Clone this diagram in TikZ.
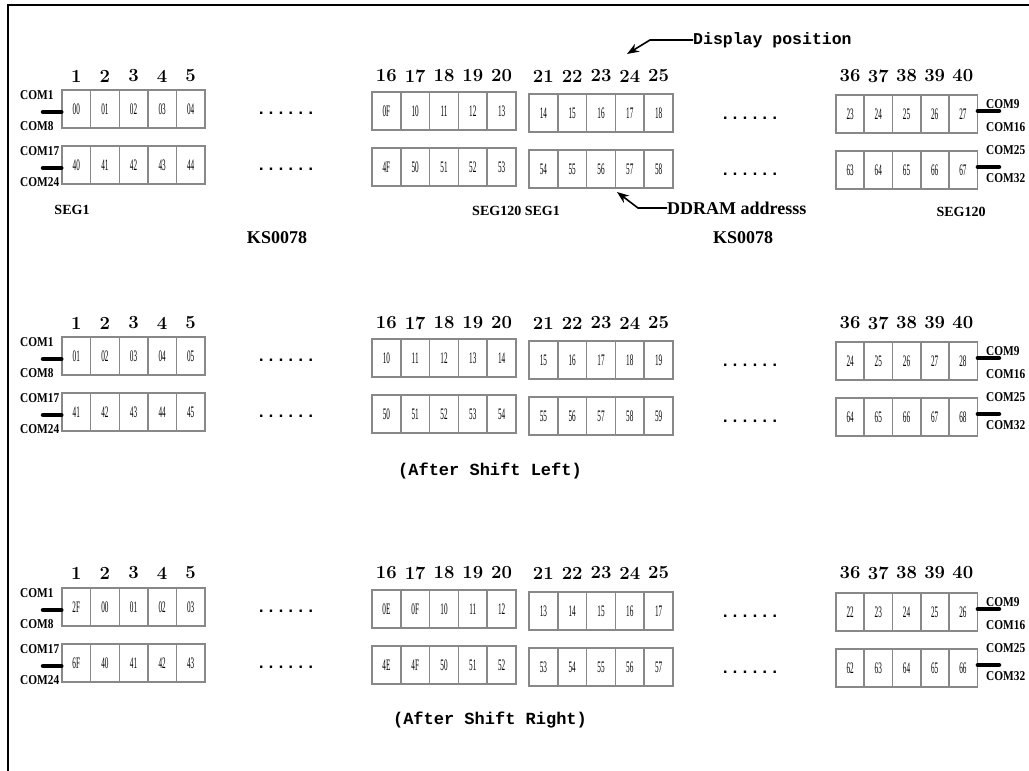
\documentclass[tikz,border=0pt]{standalone}
\usepackage{fontspec}
\usepackage{graphicx}
\newfontfamily\tms{Liberation Serif}
\newfontfamily\mono{Liberation Mono}
\usetikzlibrary{arrows.meta}
\definecolor{cellgray}{RGB}{136,136,136}
\newcommand\cx[1]{\scalebox{0.45}[1]{#1}}
\newcommand\cn[1]{\scalebox{0.84}[1]{#1}}
\tikzset{
  cell/.style={draw=cellgray, line width=1.4pt, minimum width=28.6pt, minimum height=38pt, inner sep=0pt, font=\tms\fontsize{16}{16}\selectfont},
  num/.style={font=\bfseries\fontsize{18.5}{18.5}\selectfont, inner sep=0pt},
  com/.style={font=\tms\bfseries\fontsize{13.5}{13.5}\selectfont, inner sep=0pt, anchor=west},
  bar/.style={line width=4.5pt, line cap=round},
  dots/.style={font=\mono\bfseries\fontsize{16.5}{16.5}\selectfont, inner sep=0pt, anchor=base},
  lbl/.style={font=\tms\bfseries\fontsize{14}{14}\selectfont, inner sep=0pt},
  big/.style={font=\tms\bfseries\fontsize{18}{18}\selectfont, inner sep=0pt},
  captxt/.style={font=\mono\bfseries\fontsize{17}{17}\selectfont, inner sep=0pt},
  ptr/.style={line width=1.6pt, -{Stealth[length=12pt,width=9pt]}},
}
% #1 name, #2 top y, #3 L list, #4 MA list, #5 MB list, #6 R list, #7 upper left label, #8 lower left label, #9 right labels (up/down)
\newcommand\drawrow[9]{%
  \foreach \t [count=\i] in {#3} \node[cell] (#1L\i) at ({62+(\i-0.5)*28.6},{#2+19}) {\cx{\t}};
  \foreach \t [count=\i] in {#4} \node[cell] (#1A\i) at ({372+(\i-0.5)*28.8},{#2+2+19}) {\cx{\t}};
  \foreach \t [count=\i] in {#5} \node[cell] (#1B\i) at ({529+(\i-0.5)*28.8},{#2+4+19}) {\cx{\t}};
  \foreach \t [count=\i] in {#6} \node[cell] (#1R\i) at ({836+(\i-0.5)*28.2},{#2+5+19}) {\cx{\t}};
  \node[dots] (#1d1) at (286,{#2+24}) {......};
  \node[dots] (#1d2) at (750,{#2+29}) {......};
  \coordinate (#1lb) at (43,{#2+22});
  \draw[bar] (#1lb) -- (#1lb -| #1L1.west);
  \node[com] (#1c1) at (20,{#2+5}) {\cn{#7}};
  \node[com] (#1c2) at (20,{#2+36}) {\cn{#8}};
  \coordinate (#1rb) at (999,{#2+5+16});
  \draw[bar] (#1R5.east |- #1rb) -- (#1rb);
  \foreach \u/\d/\uy/\dy in {#9} {
    \node[com] at (986,{#2+5+\uy}) {\cn{\u}};
    \node[com] at (986,{#2+5+\dy}) {\cn{\d}};
  }
}
\newcommand\drawnums[2]{%
  \foreach \n [count=\i] in {1,2,3,4,5} \node[num] (#1nL\i) at ({62+(\i-0.5)*28.6},#2) {\n};
  \foreach \n [count=\i] in {16,17,18,19,20} \node[num] (#1nA\i) at ({372+(\i-0.5)*28.8},#2) {\n};
  \foreach \n [count=\i] in {21,22,23,24,25} \node[num] (#1nB\i) at ({529+(\i-0.5)*28.8},#2) {\n};
  \foreach \n [count=\i] in {36,37,38,39,40} \node[num] (#1nR\i) at ({836+(\i-0.5)*28.2},#2) {\n};
}
\begin{document}
\begin{tikzpicture}[x=1pt,y=-1pt]
\useasboundingbox (0,0) rectangle (1029,771);
\fill[white] (0,0) rectangle (1029,771);
\draw[line width=2pt] (8,771) -- (8,5) -- (1029,5);

% Section 1
\drawnums{a}{76}
\drawrow{a1}{90}{00,01,02,03,04}{0F,10,11,12,13}{14,15,16,17,18}{23,24,25,26,27}{COM1}{COM8}{COM9/COM16/9/32}
\drawrow{a2}{146}{40,41,42,43,44}{4F,50,51,52,53}{54,55,56,57,58}{63,64,65,66,67}{COM17}{COM24}{COM25/COM32/-1/27}
\node[lbl] (seg1) at (72,210) {SEG1};
\node[lbl] (segm) at (516,211) {SEG120 SEG1};
\node[lbl] (seg2) at (961,212) {SEG120};
\node[big] (ks1) at (277,238) {KS0078};
\node[big] (ks2) at (743,238) {KS0078};
\node[font=\mono\bfseries\fontsize{16.5}{16.5}\selectfont, inner sep=0pt, anchor=west] (disp) at (693,40) {Display position};
\coordinate (dtip) at (627,54);
\draw[ptr] (disp.west) -- (650,40) -- (dtip);
\node[big, anchor=west] (ddram) at (667,208) {DDRAM addresss};
\coordinate (atip) at (617,192);
\draw[ptr] (ddram.west) -- (638,208) -- (atip);

% Section 2
\drawnums{b}{323}
\drawrow{b1}{337}{01,02,03,04,05}{10,11,12,13,14}{15,16,17,18,19}{24,25,26,27,28}{COM1}{COM8}{COM9/COM16/9/32}
\drawrow{b2}{393}{41,42,43,44,45}{50,51,52,53,54}{55,56,57,58,59}{64,65,66,67,68}{COM17}{COM24}{COM25/COM32/-1/27}
\node[captxt] (shl) at (490,471) {(After Shift Left)};

% Section 3
\drawnums{c}{573}
\drawrow{c1}{588}{2F,00,01,02,03}{0E,0F,10,11,12}{13,14,15,16,17}{22,23,24,25,26}{COM1}{COM8}{COM9/COM16/9/32}
\drawrow{c2}{644}{6F,40,41,42,43}{4E,4F,50,51,52}{53,54,55,56,57}{62,63,64,65,66}{COM17}{COM24}{COM25/COM32/-1/27}
\node[captxt] (shr) at (490,720) {(After Shift Right)};
\end{tikzpicture}
\end{document}
